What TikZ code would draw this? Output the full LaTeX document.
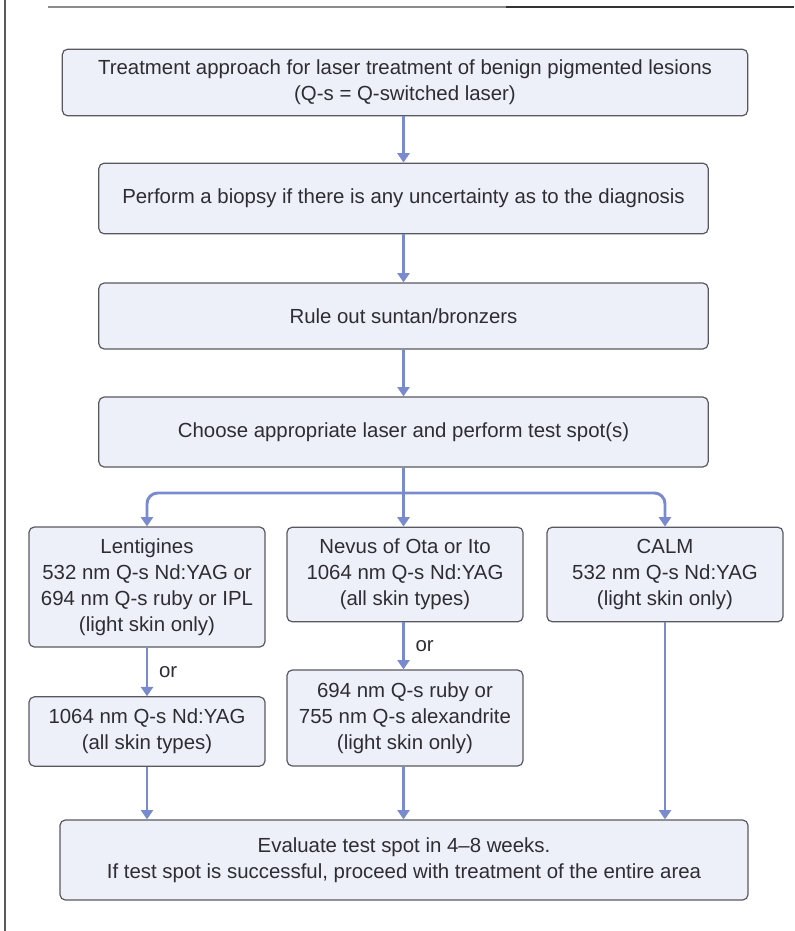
\documentclass[tikz,border=0pt]{standalone}
\usepackage{fontspec}
\setmainfont{Liberation Sans}
\usetikzlibrary{arrows.meta}
\definecolor{boxfill}{RGB}{238,240,249}
\definecolor{boxline}{RGB}{88,88,96}
\definecolor{flowblue}{RGB}{122,138,206}
\definecolor{txtgrey}{RGB}{45,45,50}

\begin{document}
\begin{tikzpicture}[x=0.75pt,y=-0.75pt]
\tikzstyle{every node}+=[inner sep=0pt]
\tikzstyle{box}=[draw=boxline, fill=boxfill, line width=0.9pt, rounded corners=4pt, align=center, text=txtgrey, font=\fontsize{15.3}{19.5}\selectfont]
\tikzstyle{flow}=[draw=flowblue, line width=2.2pt, -{Triangle[width=9pt,length=7pt]}]
\useasboundingbox (0,0) rectangle (794,931);
\draw [black!65, line width=0.8pt] (5,0) -- (5,931);
\draw [black!45, line width=0.8pt] (48,7) -- (506,7);
\draw [black!80, line width=1.6pt] (506,7) -- (794,7);
\node [box, minimum width=514pt, minimum height=50pt] (title) at (405,82.5) {Treatment approach for laser treatment of benign pigmented lesions\\(Q-s = Q-switched laser)};
\node [box, minimum width=457pt, minimum height=53pt] (biopsy) at (403.5,198.5) {Perform a biopsy if there is any uncertainty as to the diagnosis};
\node [box, minimum width=457pt, minimum height=49.5pt] (ruleout) at (403.5,316) {Rule out suntan/bronzers};
\node [box, minimum width=457pt, minimum height=52.5pt] (choose) at (403.5,432) {Choose appropriate laser and perform test spot(s)};
\node [box, minimum width=177pt, minimum height=90pt] (lent) at (147,587) {Lentigines\\532 nm Q-s Nd:YAG or\\694 nm Q-s ruby or IPL\\(light skin only)};
\node [box, minimum width=177pt, minimum height=71pt] (nevus) at (405,574.5) {Nevus of Ota or Ito\\1064 nm Q-s Nd:YAG\\(all skin types)};
\node [box, minimum width=177pt, minimum height=71pt] (calm) at (665,574.5) {CALM\\532 nm Q-s Nd:YAG\\(light skin only)};
\node [box, minimum width=177pt, minimum height=52pt] (lentalt) at (147,731.5) {1064 nm Q-s Nd:YAG\\(all skin types)};
\node [box, minimum width=177pt, minimum height=72pt] (nevusalt) at (405,718) {694 nm Q-s ruby or\\755 nm Q-s alexandrite\\(light skin only)};
\node [box, minimum width=516pt, minimum height=60pt] (evaluate) at (404,860) {Evaluate test spot in 4--8 weeks.\\If test spot is successful, proceed with treatment of the entire area};
\coordinate (split) at (403.5,493);
\draw [flow] (title.south -| biopsy) -- (biopsy);
\draw [flow] (biopsy) -- (ruleout);
\draw [flow] (ruleout) -- (choose);
\draw [flowblue, line width=2.2pt] (choose) -- (split);
\draw [flow, rounded corners=8pt] (split) -| (lent);
\draw [flow] (split) -- (nevus.north -| split);
\draw [flow, rounded corners=8pt] (split) -| (calm);
\draw [flow] (lent) -- node [right=8pt, text=txtgrey, font=\fontsize{15.3}{19.5}\selectfont] {or} (lentalt);
\draw [flow] (nevus.south -| split) -- node [right=8pt, text=txtgrey, font=\fontsize{15.3}{19.5}\selectfont] {or} (nevusalt.north -| split);
\draw [flow] (lentalt) -- (lentalt |- evaluate.north);
\draw [flow] (nevusalt.south -| split) -- (split |- evaluate.north);
\draw [flow] (calm) -- (calm |- evaluate.north);
\end{tikzpicture}
\end{document}
